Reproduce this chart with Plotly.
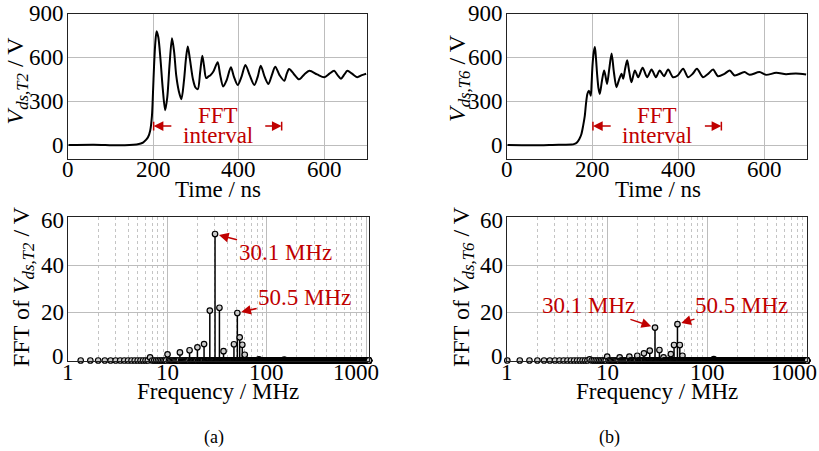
import numpy as np
import plotly.graph_objects as go

SERIF = "Liberation Serif"
RED = "#C00000"

# ---- Drain-source voltage transients (time in ns, voltage in V) ----
T2_TIME = [0, 60, 120, 160, 170, 175, 182, 187, 192, 196, 198.5, 201, 204, 207, 211, 216, 221,
           227, 232, 237, 243, 248, 253, 259, 265, 271, 276, 280, 285, 292, 298, 303.5, 309,
           314, 318, 323, 328, 333, 340, 350, 356, 363, 371, 381, 388, 397, 406, 415, 425,
           436, 444, 451, 460, 469, 477, 485, 495, 506, 512, 517.5, 528, 541, 553, 565, 583,
           600, 612, 623, 631, 639, 647, 654, 665, 677, 688, 698]
T2_VOLT = [0, 2, -2, 4, 10, 16, 35, 55, 100, 200, 361, 545, 706, 782, 740, 590, 400,
           239, 330, 540, 733, 640, 476, 370, 315, 440, 600, 676, 590, 453, 395, 384, 500,
           614, 545, 460, 470, 480, 505, 568, 480, 402, 445, 534, 470, 412, 470, 550, 480,
           412, 470, 545, 470, 419, 480, 538, 480, 442, 490, 522, 490, 451, 485, 510, 485,
           465, 490, 510, 480, 456, 485, 510, 490, 466, 480, 490]

T6_TIME = [0, 60, 120, 150, 157, 162, 168, 173, 177, 181, 184, 187, 190, 192.5, 195, 197, 199,
           202, 204.6, 207, 210, 213, 216, 221, 226, 229, 233, 238, 243.6, 249, 255, 261, 267,
           270.7, 275, 280, 285, 290, 298, 305.7, 316, 326.6, 337, 347, 356, 366, 375.7, 387,
           398, 410.7, 422, 433, 443, 457, 469, 480.7, 492, 507, 519.6, 531, 554, 566, 589,
           604, 628, 651, 674, 698]
T6_VOLT = [0, -2, 2, 3, 8, 16, 40, 74, 130, 200, 290, 351, 372, 362, 339, 430, 547,
           640, 674, 600, 478, 390, 351, 440, 512, 480, 420, 520, 628, 500, 397, 450, 489,
           455, 520, 582, 500, 432, 512, 466, 531, 466, 519, 466, 512, 473, 519, 466,
           478, 524, 466, 489, 524, 466, 489, 519, 473, 489, 512, 478, 501, 482, 501,
           482, 496, 487, 492, 485]

FFT_INTERVAL = [200, 500]          # ns

# ---- FFT spectra: resolved lines (MHz, V); every other bin sits near 0 V ----
FFT_BIN_MHZ = 1.0 / 3.0
FFT_T2_FREQ = [6.67, 10.0, 13.33, 16.67, 20.0, 23.33, 26.67, 30.1, 33.33, 36.67,
               46.67, 50.5, 53.33, 56.67, 60.0, 83.3, 150.0]
FFT_T2_AMP = [1.3, 2.6, 3.4, 4.3, 5.5, 6.9, 20.9, 53.0, 22.1, 3.9,
              6.8, 19.9, 9.7, 6.6, 2.4, 0.5, 0.4]
FFT_T6_FREQ = [6.67, 10.0, 13.33, 16.67, 20.0, 23.33, 26.67, 30.1, 33.33, 36.67,
               43.33, 46.67, 50.5, 53.33, 56.67, 116.7]
FFT_T6_AMP = [0.5, 1.6, 1.3, 1.6, 2.0, 3.0, 4.1, 13.8, 4.4, 1.3,
              2.7, 6.5, 15.2, 6.5, 2.0, 0.6]
PEAK_LABELS = ["30.1 MHz", "50.5 MHz"]

TIME_TICKS = [0, 200, 400, 600]
VOLT_TICKS = [0, 300, 600, 900]
FFT_TICKS = [0, 20, 40, 60]
FREQ_TICKS = [1, 10, 100, 1000]


def spectrum(freqs, amps, k_first, f_max):
    """Bin grid with the listed lines placed on their nearest bins."""
    grid = np.arange(k_first, int(f_max / FFT_BIN_MHZ) + 1) * FFT_BIN_MHZ
    vals = np.zeros_like(grid)
    for f, a in zip(freqs, amps):
        i = int(np.argmin(np.abs(grid - f)))
        grid[i] = f
        vals[i] = a
    return grid, vals


def stem_traces(freqs, vals, xa, ya):
    sx, sy = [], []
    for f, v in zip(freqs, vals):
        if v > 0:
            sx += [f, f, None]
            sy += [0, v, None]
    stems = go.Scatter(x=sx, y=sy, mode="lines", xaxis=xa, yaxis=ya,
                       line=dict(color="black", width=1.5), hoverinfo="skip",
                       showlegend=False, cliponaxis=False)
    marks = go.Scatter(x=freqs, y=vals, mode="markers", xaxis=xa, yaxis=ya,
                       marker=dict(symbol="circle", size=5.5, color="#cccccc",
                                   line=dict(color="black", width=1.2)),
                       showlegend=False, cliponaxis=False)
    return [stems, marks]


fig = go.Figure()

fig.add_trace(go.Scatter(x=T2_TIME, y=T2_VOLT, mode="lines", xaxis="x", yaxis="y",
                         line=dict(color="black", width=2, shape="spline", smoothing=0.8),
                         showlegend=False))
fig.add_trace(go.Scatter(x=T6_TIME, y=T6_VOLT, mode="lines", xaxis="x2", yaxis="y2",
                         line=dict(color="black", width=2, shape="spline", smoothing=0.8),
                         showlegend=False))

f2, v2 = spectrum(FFT_T2_FREQ, FFT_T2_AMP, 4, 1070)
f6, v6 = spectrum(FFT_T6_FREQ, FFT_T6_AMP, 3, 1000)
for tr in stem_traces(f2, v2, "x3", "y3") + stem_traces(f6, v6, "x4", "y4"):
    fig.add_trace(tr)

frame = dict(showline=True, linecolor="#222222", linewidth=1, mirror=True,
             showgrid=True, gridcolor="#bdbdbd", gridwidth=1, zeroline=False,
             ticks="", showticklabels=False, fixedrange=True)

W, H = 819, 451
def px_x(a, b):
    return [a / W, b / W]
def px_y(top, bottom):
    return [1 - bottom / H, 1 - top / H]

# panel boxes in pixels: (left, right, top, bottom)
BOX_TL = (68.3, 367, 14, 159.3)
BOX_TR = (507.3, 807, 14, 159.3)
BOX_BL = (68.3, 369, 217.3, 360.5)
BOX_BR = (507.3, 807, 217.3, 360.5)

minor_vals = [m * d for d in (1, 10, 100) for m in range(2, 10)]
log_minor = dict(tickvals=minor_vals, showgrid=True, gridcolor="#c4c4c4",
                 griddash="dot", gridwidth=1, ticks="")

fig.update_layout(
    width=W, height=H, margin=dict(l=0, r=0, t=0, b=0),
    paper_bgcolor="white", plot_bgcolor="white",
    font=dict(family=SERIF, size=23, color="black"),
    xaxis=dict(frame, domain=px_x(*BOX_TL[:2]), range=[0, 700], tickvals=TIME_TICKS, anchor="y"),
    yaxis=dict(frame, domain=px_y(*BOX_TL[2:]), range=[-98, 900], tickvals=VOLT_TICKS, anchor="x"),
    xaxis2=dict(frame, domain=px_x(*BOX_TR[:2]), range=[0, 700], tickvals=TIME_TICKS, anchor="y2"),
    yaxis2=dict(frame, domain=px_y(*BOX_TR[2:]), range=[-98, 900], tickvals=VOLT_TICKS, anchor="x2"),
    xaxis3=dict(frame, type="log", domain=px_x(*BOX_BL[:2]), range=[0, 3.03],
                tickvals=FREQ_TICKS, minor=log_minor, anchor="y3"),
    yaxis3=dict(frame, domain=px_y(*BOX_BL[2:]), range=[0, 60], tickvals=FFT_TICKS, anchor="x3"),
    xaxis4=dict(frame, type="log", domain=px_x(*BOX_BR[:2]), range=[0, 3.0],
                tickvals=FREQ_TICKS, minor=log_minor, anchor="y4"),
    yaxis4=dict(frame, domain=px_y(*BOX_BR[2:]), range=[0, 60], tickvals=FFT_TICKS, anchor="x4"),
)

ann = []
def paper_text(text, x, y, size=23, angle=0):
    ann.append(dict(text=text, xref="paper", yref="paper", x=x / W, y=1 - y / H,
                    xanchor="center", yanchor="middle", showarrow=False, textangle=angle,
                    font=dict(family=SERIF, size=size, color="black")))

tick_font = dict(family=SERIF, size=23, color="black")

# tick labels, set close to the frame
def x_ticklabels(xa, ticks, box, y_px, log=False, last_shift=0):
    for i, t in enumerate(ticks):
        ann.append(dict(text=str(t), xref=xa, x=np.log10(t) if log else t,
                        yref="paper", y=1 - y_px / H, xanchor="center", yanchor="middle",
                        showarrow=False, font=tick_font,
                        xshift=last_shift if i == len(ticks) - 1 else 0))

def y_ticklabels(ya, ticks, box, shifts=None):
    for i, t in enumerate(ticks):
        ann.append(dict(text=str(t), yref=ya, y=t, xref="paper", x=(box[0] - 2.5) / W,
                        xanchor="right", yanchor="middle", showarrow=False, font=tick_font,
                        yshift=(shifts or {}).get(i, 0)))

x_ticklabels("x", TIME_TICKS, BOX_TL, 169.5)
x_ticklabels("x2", TIME_TICKS, BOX_TR, 169.5)
x_ticklabels("x3", FREQ_TICKS, BOX_BL, 372.5, log=True, last_shift=-10)
x_ticklabels("x4", FREQ_TICKS, BOX_BR, 372.5, log=True, last_shift=-13)
y_ticklabels("y", VOLT_TICKS, BOX_TL)
y_ticklabels("y2", VOLT_TICKS, BOX_TR)
y_ticklabels("y3", FFT_TICKS, BOX_BL, shifts={0: 4, 3: -3})
y_ticklabels("y4", FFT_TICKS, BOX_BR, shifts={0: 4, 3: -3})

# axis titles
paper_text("Time / ns", 218, 189.5)
paper_text("Time / ns", 657.5, 189.5)
paper_text("Frequency / MHz", 217.5, 391)
paper_text("Frequency / MHz", 657, 391)
paper_text("<i>V</i><sub><i>ds,T2</i></sub> / V", 17, 80.5, size=24, angle=-90)
paper_text("<i>V</i><sub><i>ds,T6</i></sub> / V", 459, 78, size=24, angle=-90)
paper_text("FFT of <i>V</i><sub><i>ds,T2</i></sub> / V", 22.5, 286.5, size=24, angle=-90)
paper_text("FFT of <i>V</i><sub><i>ds,T6</i></sub> / V", 462.5, 286.5, size=24, angle=-90)
paper_text("(a)", 214, 437, size=18)
paper_text("(b)", 609, 437, size=18)

# FFT interval markers on the time plots
shapes = []
for xa, ya in (("x", "y"), ("x2", "y2")):
    t0, t1 = FFT_INTERVAL
    ann.append(dict(text="FFT", x=350, y=203, xref=xa, yref=ya, showarrow=False,
                    font=dict(family=SERIF, size=23, color=RED)))
    ann.append(dict(text="interval", x=350, y=65, xref=xa, yref=ya, showarrow=False,
                    font=dict(family=SERIF, size=23, color=RED)))
    for head, tail in ((t0, t0 + 45), (t1, t1 - 42)):
        ann.append(dict(text="", x=head, y=130, ax=tail, ay=130, xref=xa, yref=ya,
                        axref=xa, ayref=ya, showarrow=True, arrowhead=2, arrowsize=1.3,
                        arrowwidth=1.5, arrowcolor=RED))
        shapes.append(dict(type="line", xref=xa, yref=ya, x0=head, x1=head, y0=100, y1=160,
                           line=dict(color=RED, width=1.5)))

# peak labels on the spectra
def peak_label(text, f, v, tx, ty, xa, ya):
    ann.append(dict(text=text, x=np.log10(f), y=v, ax=tx, ay=ty, xref=xa, yref=ya,
                    axref=xa, ayref=ya, showarrow=True, arrowhead=2, arrowsize=1.3,
                    arrowwidth=1.5, arrowcolor=RED, standoff=4,
                    font=dict(family=SERIF, size=23, color=RED)))

i30 = FFT_T2_FREQ.index(30.1)
i50 = FFT_T2_FREQ.index(50.5)
peak_label(PEAK_LABELS[0], FFT_T2_FREQ[i30], FFT_T2_AMP[i30], 2.184, 45.4, "x3", "y3")
peak_label(PEAK_LABELS[1], FFT_T2_FREQ[i50], FFT_T2_AMP[i50], 2.382, 26.5, "x3", "y3")
j30 = FFT_T6_FREQ.index(30.1)
j50 = FFT_T6_FREQ.index(50.5)
peak_label(PEAK_LABELS[0], FFT_T6_FREQ[j30], FFT_T6_AMP[j30], 0.811, 23.1, "x4", "y4")
peak_label(PEAK_LABELS[1], FFT_T6_FREQ[j50], FFT_T6_AMP[j50], 2.342, 23.2, "x4", "y4")

fig.update_layout(annotations=ann, shapes=shapes)
fig.write_html("out.html")
